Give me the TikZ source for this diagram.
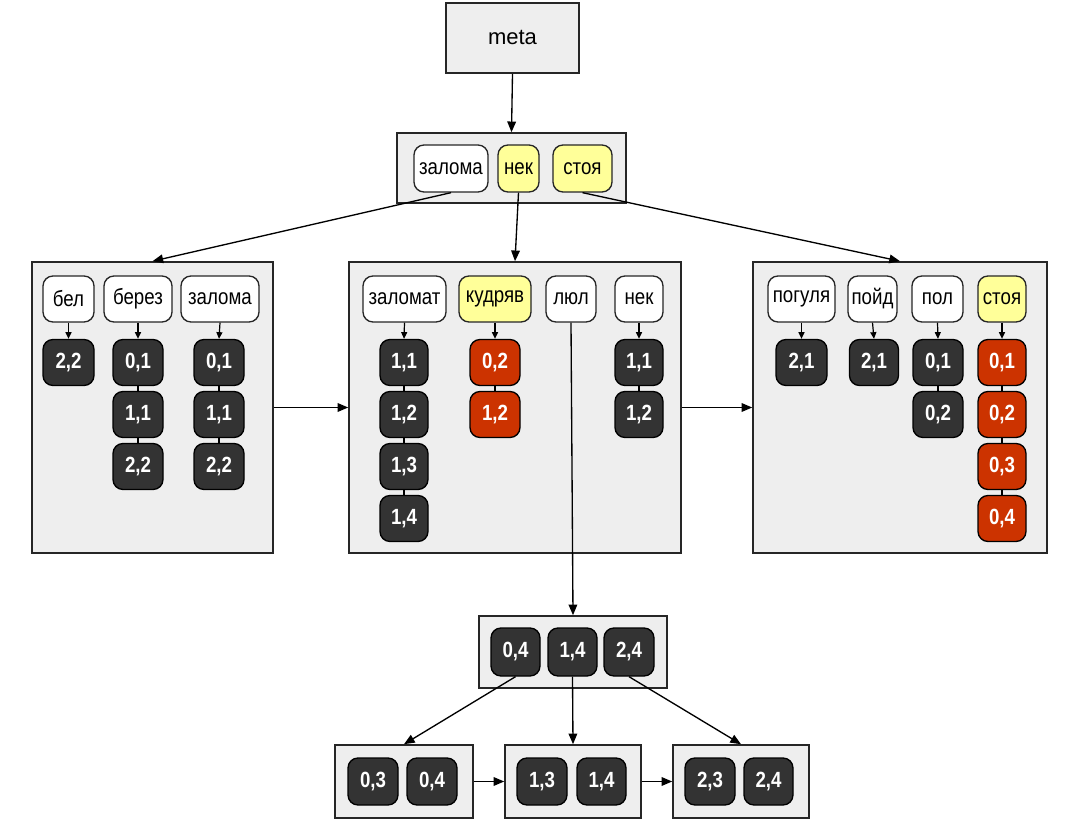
\documentclass[tikz,border=0pt]{standalone}
\usepackage{fontspec}
\setmainfont{Liberation Sans}
\newfontfamily\cfont[FakeStretch=0.85]{Liberation Sans}
\usetikzlibrary{arrows.meta}
\definecolor{boxgray}{HTML}{EEEEEE}
\definecolor{valdark}{HTML}{333333}
\definecolor{valred}{HTML}{CC3300}
\definecolor{keyyel}{HTML}{FFFF99}
\tikzset{
 sz/.style 2 args={minimum width=#1*0.75pt, minimum height=#2*0.75pt, inner sep=0pt},
 pagebox/.style={draw=black!85, fill=boxgray, line width=1.2pt},
 keybox/.style={draw=black!85, fill=white, rounded corners=7.5pt, line width=1pt, font=\cfont\fontsize{16.5}{18}\selectfont, text=black},
 yelkey/.style={keybox, fill=keyyel},
 valbox/.style={draw=black, fill=valdark, rounded corners=7.5pt, line width=1pt, font=\cfont\bfseries\fontsize{16.5}{18}\selectfont, text=white},
 redval/.style={valbox, fill=valred},
 arr/.style={-{Triangle[length=8pt,width=6.5pt]}, line width=1pt},
 sarr/.style={-{Triangle[length=5pt,width=4.5pt]}, line width=0.9pt},
 chainln/.style={line width=0.9pt},
}
\begin{document}
\begin{tikzpicture}[x=0.75pt,y=-0.75pt]
\useasboundingbox (0,0) rectangle (1082,830);
% ---- container boxes
\node[pagebox, sz={133}{70}, font=\fontsize{16.5}{18}\selectfont] (meta) at (512.5,38) {meta};
\node[pagebox, sz={229}{70}] (root) at (511.5,168) {};
\node[pagebox, sz={241}{291}] (L) at (152.5,407.5) {};
\node[pagebox, sz={332}{291}] (M) at (515,407.5) {};
\node[pagebox, sz={294}{291}] (R) at (900,407.5) {};
\node[pagebox, sz={188}{72}] (B0) at (573,652) {};
\node[pagebox, sz={138}{73}] (BA) at (404,781.5) {};
\node[pagebox, sz={136}{73}] (BB) at (573,781.5) {};
\node[pagebox, sz={136}{73}] (BC) at (741,781.5) {};
% ---- root keys
\node[keybox, sz={74}{47}] (r1) at (451,168.5) {залома};
\node[yelkey, sz={41}{47}] (r2) at (518.5,168.5) {нек};
\node[yelkey, sz={59}{47}] (r3) at (582.5,168.5) {стоя};
% ---- left leaf
\node[keybox, sz={51}{46}] (Lk1) at (68.5,299) {бел};
\node[keybox, sz={68}{46}] (Lk2) at (138,299) {берез};
\node[keybox, sz={78}{46}] (Lk3) at (220,299) {залома};
\node[valbox, sz={51}{46}] (Lv11) at (68.5,362.5) {2,2};
\node[valbox, sz={50}{46}] (Lv21) at (138,362.5) {0,1};
\node[valbox, sz={50}{46}] (Lv22) at (138,414.5) {1,1};
\node[valbox, sz={50}{46}] (Lv23) at (138,466.5) {2,2};
\node[valbox, sz={50}{46}] (Lv31) at (219,362.5) {0,1};
\node[valbox, sz={50}{46}] (Lv32) at (219,414.5) {1,1};
\node[valbox, sz={50}{46}] (Lv33) at (219,466.5) {2,2};
% ---- middle leaf
\node[keybox, sz={83}{46}] (Mk1) at (404.5,299) {заломат};
\node[yelkey, sz={72}{46}] (Mk2) at (495,299) {кудряв};
\node[keybox, sz={50}{46}] (Mk3) at (571,299) {люл};
\node[keybox, sz={48}{46}] (Mk4) at (639,299) {нек};
\node[valbox, sz={48}{46}] (Mv11) at (404,362.5) {1,1};
\node[valbox, sz={48}{46}] (Mv12) at (404,414.5) {1,2};
\node[valbox, sz={48}{46}] (Mv13) at (404,466.5) {1,3};
\node[valbox, sz={48}{46}] (Mv14) at (404,518.5) {1,4};
\node[redval, sz={50}{46}] (Mv21) at (495,362.5) {0,2};
\node[redval, sz={50}{46}] (Mv22) at (495,414.5) {1,2};
\node[valbox, sz={48}{46}] (Mv41) at (639,362.5) {1,1};
\node[valbox, sz={48}{46}] (Mv42) at (639,414.5) {1,2};
% ---- right leaf
\node[keybox, sz={67}{46}] (Rk1) at (801.5,299) {погуля};
\node[keybox, sz={49}{46}] (Rk2) at (872.5,299) {пойд};
\node[keybox, sz={51}{46}] (Rk3) at (937.5,299) {пол};
\node[yelkey, sz={48}{46}] (Rk4) at (1002,299) {стоя};
\node[valbox, sz={51}{46}] (Rv11) at (801.5,362.5) {2,1};
\node[valbox, sz={49}{46}] (Rv21) at (874,362.5) {2,1};
\node[valbox, sz={50}{46}] (Rv31) at (938,362.5) {0,1};
\node[valbox, sz={50}{46}] (Rv32) at (938,414.5) {0,2};
\node[redval, sz={48}{46}] (Rv41) at (1002,362.5) {0,1};
\node[redval, sz={48}{46}] (Rv42) at (1002,414.5) {0,2};
\node[redval, sz={48}{46}] (Rv43) at (1002,466.5) {0,3};
\node[redval, sz={48}{46}] (Rv44) at (1002,518.5) {0,4};
% ---- bottom tree
\node[valbox, sz={49}{48}] (b1) at (515.5,652) {0,4};
\node[valbox, sz={49}{48}] (b2) at (572.5,652) {1,4};
\node[valbox, sz={50}{48}] (b3) at (629,652) {2,4};
\node[valbox, sz={50}{47}] (a1) at (373,781.5) {0,3};
\node[valbox, sz={50}{47}] (a2) at (432,781.5) {0,4};
\node[valbox, sz={50}{47}] (c1) at (542,781.5) {1,3};
\node[valbox, sz={49}{47}] (c2) at (601.5,781.5) {1,4};
\node[valbox, sz={50}{47}] (d1) at (710,781.5) {2,3};
\node[valbox, sz={49}{47}] (d2) at (768.5,781.5) {2,4};
% ---- big connectors
\draw[arr] (meta.south) -- (root.north);
\draw[arr] (r1.south) -- (L.north);
\draw[arr] (r2.south) -- (M.north);
\draw[arr] (r3.south) -- (R.north);
\draw[arr] (L.east) -- (M.west);
\draw[arr] (M.east) -- (R.west);
\draw[arr] (Mk3.south) -- (B0.north);
\draw[arr] (b1.south) -- (BA.north);
\draw[arr] (b2.south) -- (BB.north);
\draw[arr] (b3.south) -- (BC.north);
\draw[arr] (BA.east) -- (BB.west);
\draw[arr] (BB.east) -- (BC.west);
% ---- key -> value arrows
\draw[sarr] (Lk1.south) -- (Lv11.north);
\draw[sarr] (Lk2.south) -- (Lv21.north);
\draw[sarr] (Lk3.south) -- (Lv31.north);
\draw[sarr] (Mk1.south) -- (Mv11.north);
\draw[sarr] (Mk2.south) -- (Mv21.north);
\draw[sarr] (Mk4.south) -- (Mv41.north);
\draw[sarr] (Rk1.south) -- (Rv11.north);
\draw[sarr] (Rk2.south) -- (Rv21.north);
\draw[sarr] (Rk3.south) -- (Rv31.north);
\draw[sarr] (Rk4.south) -- (Rv41.north);
% ---- value chains
\draw[chainln] (Lv21) -- (Lv22) (Lv22) -- (Lv23);
\draw[chainln] (Lv31) -- (Lv32) (Lv32) -- (Lv33);
\draw[chainln] (Mv11) -- (Mv12) (Mv12) -- (Mv13) (Mv13) -- (Mv14);
\draw[chainln] (Mv21) -- (Mv22);
\draw[chainln] (Mv41) -- (Mv42);
\draw[chainln] (Rv31) -- (Rv32);
\draw[chainln] (Rv41) -- (Rv42) (Rv42) -- (Rv43) (Rv43) -- (Rv44);
\end{tikzpicture}
\end{document}
